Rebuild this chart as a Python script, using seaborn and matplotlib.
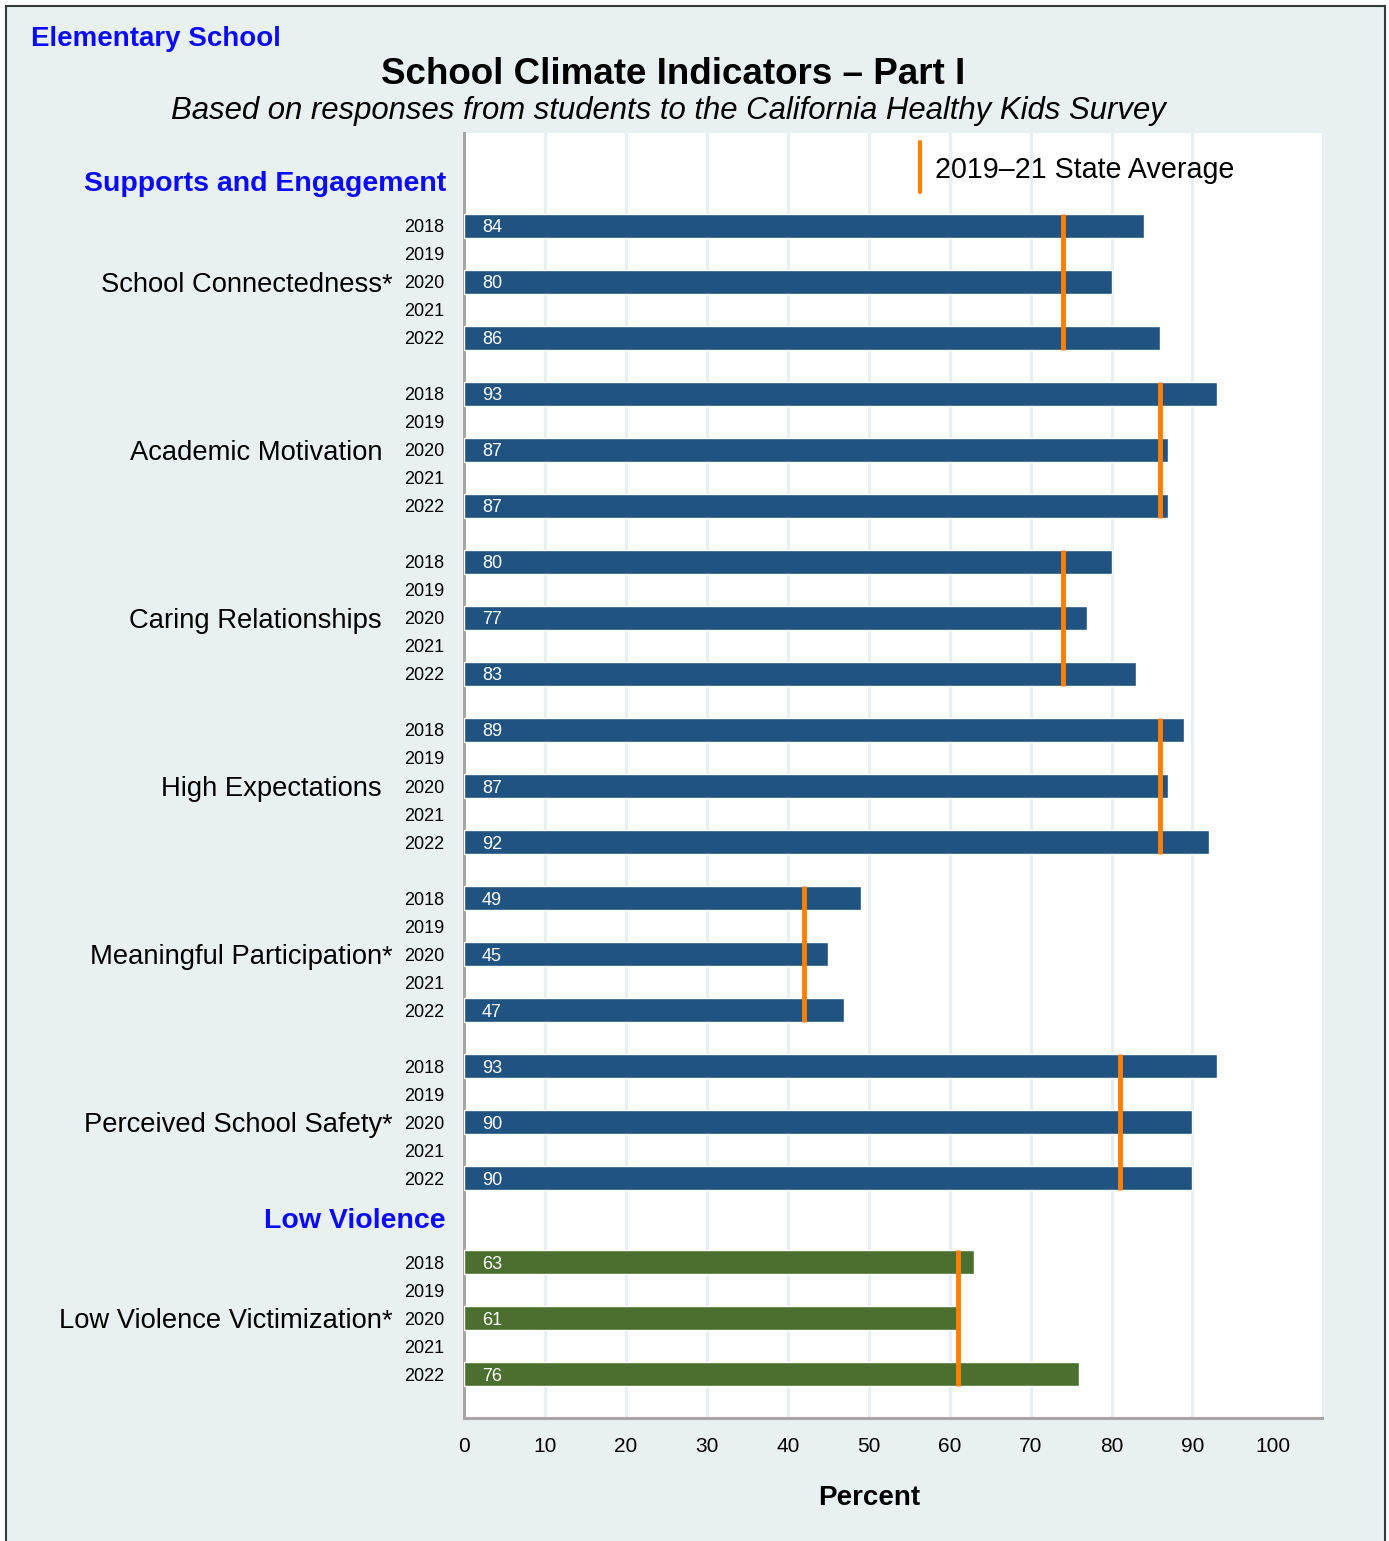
import matplotlib
matplotlib.use("Agg")
import matplotlib.pyplot as plt
import matplotlib.transforms as mtransforms
from matplotlib.patches import Rectangle
from matplotlib.lines import Line2D
import seaborn as sns
import pandas as pd

# ---------------- data ----------------
categories = ["School Connectedness", "Academic Motivation", "Caring Relationships",
              "High Expectations", "Meaningful Participation", "Perceived School Safety",
              "Low Violence Victimization"]
asterisk = [True, False, False, False, True, True, True]
sections = ["Supports and Engagement"] * 6 + ["Low Violence"]
years = ["2018", "2019", "2020", "2021", "2022"]
bar_years = ["2018", "2020", "2022"]

school_connectedness = [84, 80, 86]
academic_motivation = [93, 87, 87]
caring_relationships = [80, 77, 83]
high_expectations = [89, 87, 92]
meaningful_participation = [49, 45, 47]
perceived_school_safety = [93, 90, 90]
low_violence_victimization = [63, 61, 76]
values = [school_connectedness, academic_motivation, caring_relationships,
          high_expectations, meaningful_participation, perceived_school_safety,
          low_violence_victimization]
state_average = [74, 86, 74, 86, 42, 81, 61]

xticks = [0, 10, 20, 30, 40, 50, 60, 70, 80, 90, 100]

# ---------------- layout of rows ----------------
starts = []
pos = 0
prev = sections[0]
for i, sec in enumerate(sections):
    if sec != prev:
        pos += 1
    starts.append(pos)
    prev = sec
    pos += 6

rows = []
for g, cat in enumerate(categories):
    for y, v in zip(bar_years, values[g]):
        rows.append({"category": cat, "year": y, "value": v, "section": sections[g],
                     "row": starts[g] + years.index(y)})
df = pd.DataFrame(rows)

# ---------------- style ----------------
sns.set_style("white")
plt.rcParams["font.family"] = ["Liberation Sans", "DejaVu Sans"]
plt.rcParams["text.color"] = "black"
plt.rcParams["axes.labelcolor"] = "black"
plt.rcParams["xtick.color"] = "black"
plt.rcParams["ytick.color"] = "black"

W, H = 1389, 1541
fig = plt.figure(figsize=(W / 100, H / 100), dpi=100)
fig.patch.set_facecolor("white")
fig.patches.append(Rectangle((6 / W, -0.01), (1385 - 6) / W, 1.01 - 6 / H,
                             transform=fig.transFigure, facecolor="#e9f0f2",
                             edgecolor="#3a3a3a", linewidth=1.5, zorder=-10))

def fx(px):
    return px / W

def fy(py):
    return 1 - py / H

ax = fig.add_axes([fx(464), fy(1418), fx(1322) - fx(464), fy(133) - fy(1418)])
ax.set_facecolor("white")

BLUE = "#215381"
GREEN = "#4a6f2f"
ORANGE = "#ff8000"
pal = {"Supports and Engagement": BLUE, "Low Violence": GREEN}

sns.barplot(data=df, x="value", y="row", hue="section", palette=pal, orient="h",
            native_scale=True, dodge=False, width=0.43, saturation=1,
            legend=False, ax=ax, zorder=3, errorbar=None)

# state average markers
for g in range(len(categories)):
    ax.vlines(state_average[g], starts[g] - 0.43, starts[g] + 4.43,
              color=ORANGE, linewidth=3.5, zorder=5)

# bar value labels
for _, r in df.iterrows():
    ax.text(2.2, r["row"], str(r["value"]), color="white", fontsize=13,
            va="center_baseline", ha="left", zorder=6)

# axes
ax.set_xlim(0, 106)
ax.set_ylim(42.57, -3.32)
ax.set_xticks(xticks)
ax.set_xticklabels([str(t) for t in xticks], fontsize=15)
ytick_pos = [s + i for s in starts for i in range(5)]
ytick_lab = [years[i] for s in starts for i in range(5)]
ax.set_yticks(ytick_pos)
ax.set_yticklabels(ytick_lab, fontsize=13)
ax.tick_params(axis="y", length=0, pad=14, labelcolor="black")
ax.tick_params(axis="x", length=7, width=2.2, color="#a6a6a6", pad=7, labelcolor="black")
ax.set_xlabel("")
ax.set_ylabel("")
for t in range(10, 100, 10):
    ax.axvline(t, color="#e8eff2", linewidth=2.4, zorder=0)
for s in ["top", "right"]:
    ax.spines[s].set_visible(False)
for s in ["left", "bottom"]:
    ax.spines[s].set_color("#a6a6a6")
    ax.spines[s].set_linewidth(2.2)

# category labels
tr = mtransforms.blended_transform_factory(fig.transFigure, ax.transData)
for g, cat in enumerate(categories):
    ax.text(fx(382), starts[g] + 2, cat, transform=tr, ha="right", va="center_baseline",
            fontsize=19.7, color="black")
    if asterisk[g]:
        ax.text(fx(382), starts[g] + 2, "*", transform=tr, ha="left", va="center_baseline",
                fontsize=19.7, color="black")

# section headers
fig.text(fx(446), fy(184), "Supports and Engagement", ha="right", va="center",
         fontsize=20.5, fontweight="bold", color="#0a0aff")
fig.text(fx(446), fy(1221), "Low Violence", ha="right", va="center",
         fontsize=20.5, fontweight="bold", color="#0a0aff")

# titles
fig.text(fx(31), fy(39), "Elementary School", ha="left", va="center",
         fontsize=20, fontweight="bold", color="#0a0aff")
fig.text(fx(673), fy(75), "School Climate Indicators \u2013 Part I", ha="center",
         va="center", fontsize=26.5, fontweight="bold", color="black")
fig.text(fx(668), fy(111),
         "Based on responses from students to the California Healthy Kids Survey",
         ha="center", va="center", fontsize=22.4, fontstyle="italic", color="black")

# legend
fig.add_artist(Line2D([fx(920), fx(920)], [fy(142), fy(192)], color=ORANGE,
                      linewidth=3, transform=fig.transFigure))
fig.text(fx(935), fy(170), "2019\u201321 State Average", ha="left", va="center",
         fontsize=20.6, color="black")

# x label
trx = mtransforms.blended_transform_factory(ax.transData, fig.transFigure)
ax.text(50, fy(1498), "Percent", transform=trx, ha="center", va="center",
        fontsize=20, fontweight="bold", color="black")

fig.savefig("out.png", dpi=100, facecolor=fig.get_facecolor())
